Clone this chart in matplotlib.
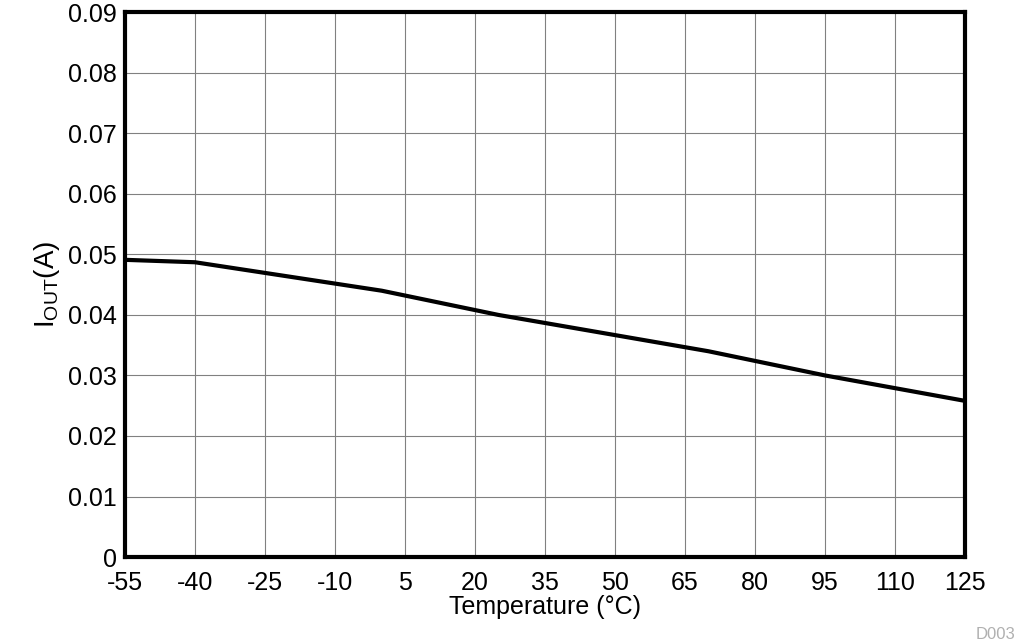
import matplotlib
matplotlib.use('Agg')
import matplotlib.pyplot as plt

plt.rcParams['font.family'] = ['Liberation Sans', 'DejaVu Sans']
plt.rcParams['axes.unicode_minus'] = False

# data
temp_c = [-55, -40, 0, 25, 70, 95, 125]
iout_a = [0.0491, 0.0487, 0.0440, 0.0400, 0.0340, 0.0300, 0.0258]

x_ticks = list(range(-55, 126, 15))
y_ticks = [0, 0.01, 0.02, 0.03, 0.04, 0.05, 0.06, 0.07, 0.08, 0.09]
y_labels = ['0', '0.01', '0.02', '0.03', '0.04', '0.05', '0.06', '0.07', '0.08', '0.09']

fig = plt.figure(figsize=(10.18, 6.44), dpi=100)
ax = fig.add_axes([0.1228, 0.135, 0.8252, 0.846])

ax.plot(temp_c, iout_a, color='black', lw=3)
ax.set_xlim(-55, 125)
ax.set_ylim(0, 0.09)
ax.set_xticks(x_ticks)
ax.set_yticks(y_ticks)
ax.set_yticklabels(y_labels)
ax.grid(True, color='#808080', lw=0.8)
ax.tick_params(labelsize=18, length=0)
ax.tick_params(axis='x', pad=10)
ax.tick_params(axis='y', pad=6)
for s in ax.spines.values():
    s.set_linewidth(3)

ax.set_xlabel('Temperature (°C)', fontsize=18, labelpad=0)
ax.set_ylabel(r'I$_{\mathregular{OUT}}$(A)', fontsize=20, labelpad=4)
fig.text(0.997, 0.003, 'D003', ha='right', va='bottom', fontsize=12, color='#b0b0b0')

fig.savefig('out.png', dpi=100)
